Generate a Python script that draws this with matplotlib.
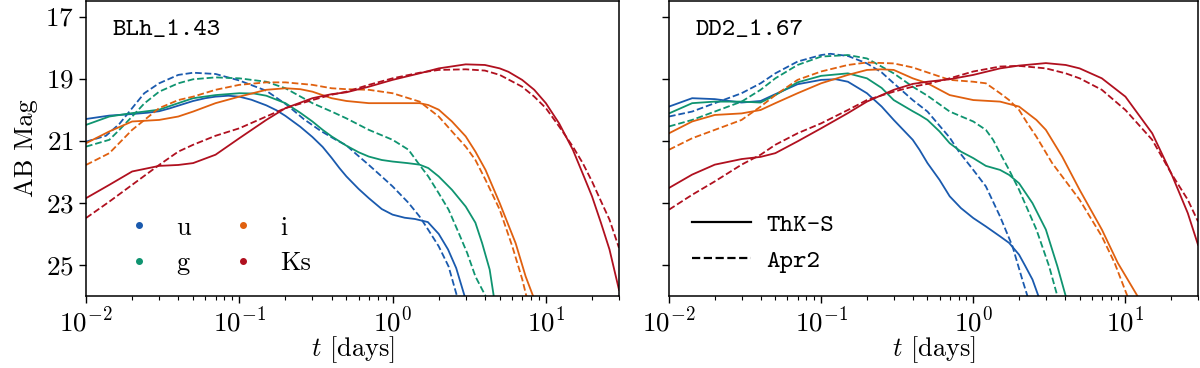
import matplotlib
matplotlib.use("Agg")
import matplotlib.pyplot as plt
from matplotlib.lines import Line2D

plt.rcParams["font.family"] = "serif"
plt.rcParams["font.serif"] = ["cmr10"]
plt.rcParams["mathtext.fontset"] = "cm"
plt.rcParams["axes.formatter.use_mathtext"] = True
plt.rcParams["axes.unicode_minus"] = False

# ---------------- data ----------------
bands = ["u", "g", "i", "Ks"]
band_colors = ["#1a5aae", "#0f9470", "#e0600f", "#b0101f"]
models = ["ThK-S", "Apr2"]
panel_labels = ["BLh_1.43", "DD2_1.67"]
yticks = [17, 19, 21, 23, 25]

# --- BLh_1.43 ---
blh_u_thk_t = [0.01, 0.0142, 0.02, 0.025, 0.03, 0.035, 0.04, 0.05, 0.06, 0.07, 0.085, 0.1, 0.12, 0.15, 0.175, 0.2, 0.25, 0.3, 0.35, 0.4, 0.45, 0.5, 0.6, 0.7, 0.85, 1.0, 1.2, 1.4, 1.7, 2.0, 2.3, 2.6, 2.95, 3.1]
blh_u_thk_m = [20.30, 20.19, 20.14, 20.10, 20.05, 19.96, 19.87, 19.72, 19.63, 19.58, 19.55, 19.58, 19.68, 19.86, 20.02, 20.2, 20.55, 20.88, 21.2, 21.55, 21.88, 22.15, 22.55, 22.85, 23.2, 23.38, 23.48, 23.52, 23.62, 24.0, 24.5, 25.1, 26.0, 26.4]
blh_u_apr_t = [0.01, 0.0135, 0.0165, 0.02, 0.024, 0.03, 0.04, 0.05, 0.07, 0.1, 0.15, 0.205, 0.263, 0.339, 0.42, 0.5, 0.57, 0.7, 0.84, 1.0, 1.27, 1.5, 1.71, 2.0, 2.32, 2.63, 2.72]
blh_u_apr_m = [21.03, 20.84, 20.46, 19.95, 19.47, 19.15, 18.88, 18.81, 18.85, 19.06, 19.39, 19.85, 20.3, 20.68, 20.95, 21.15, 21.4, 21.78, 22.13, 22.47, 23.0, 23.44, 23.87, 24.4, 25.05, 26.0, 26.3]
blh_g_thk_t = [0.01, 0.0142, 0.02, 0.03, 0.04, 0.05, 0.07, 0.1, 0.125, 0.15, 0.2, 0.25, 0.3, 0.35, 0.4, 0.5, 0.6, 0.7, 0.85, 1.0, 1.25, 1.5, 1.71, 2.0, 2.44, 3.0, 3.47, 3.84, 4.3, 4.57, 4.75]
blh_g_thk_m = [20.49, 20.22, 20.11, 20.0, 19.79, 19.63, 19.53, 19.47, 19.48, 19.55, 19.79, 20.1, 20.38, 20.65, 20.86, 21.16, 21.37, 21.51, 21.62, 21.67, 21.72, 21.77, 21.88, 22.15, 22.58, 23.12, 23.64, 24.3, 25.15, 26.0, 26.4]
blh_g_apr_t = [0.01, 0.0142, 0.0165, 0.02, 0.024, 0.03, 0.04, 0.05, 0.07, 0.1, 0.15, 0.2, 0.3, 0.4, 0.5, 0.7, 1.0, 1.27, 1.5, 1.71, 2.0, 2.32, 2.7, 3.07, 3.47, 4.04, 4.2]
blh_g_apr_m = [21.19, 20.97, 20.65, 20.22, 19.8, 19.42, 19.15, 19.02, 18.96, 18.99, 19.1, 19.31, 19.79, 20.06, 20.28, 20.65, 20.97, 21.29, 21.78, 22.15, 22.69, 23.22, 23.97, 24.62, 25.37, 26.0, 26.3]
blh_i_thk_t = [0.01, 0.0142, 0.02, 0.03, 0.04, 0.05, 0.07, 0.1, 0.15, 0.2, 0.25, 0.3, 0.4, 0.5, 0.7, 1.0, 1.5, 1.71, 2.0, 2.44, 3.0, 3.47, 4.04, 5.0, 6.35, 7.38, 8.25, 8.5]
blh_i_thk_m = [21.08, 20.7, 20.38, 20.33, 20.22, 20.06, 19.79, 19.58, 19.36, 19.31, 19.34, 19.42, 19.63, 19.72, 19.79, 19.79, 19.79, 19.85, 20.0, 20.38, 20.86, 21.35, 21.94, 23.01, 24.3, 25.37, 26.0, 26.3]
blh_i_apr_t = [0.01, 0.0142, 0.02, 0.03, 0.04, 0.05, 0.07, 0.1, 0.15, 0.2, 0.3, 0.4, 0.5, 0.7, 1.0, 1.5, 2.0, 2.44, 3.0, 3.47, 4.04, 5.0, 6.04, 7.02, 7.46, 7.7]
blh_i_apr_m = [21.78, 21.4, 20.65, 19.95, 19.69, 19.58, 19.36, 19.2, 19.12, 19.12, 19.2, 19.31, 19.34, 19.36, 19.47, 19.74, 20.22, 20.7, 21.19, 21.62, 22.26, 23.22, 24.4, 25.47, 26.0, 26.3]
blh_k_thk_t = [0.01, 0.0142, 0.02, 0.03, 0.04, 0.05, 0.07, 0.1, 0.15, 0.2, 0.3, 0.4, 0.5, 0.7, 1.0, 1.5, 2.0, 3.0, 4.0, 5.0, 5.7, 7.0, 8.4, 10, 12.2, 15, 17.4, 20, 22.9, 26, 30]
blh_k_thk_m = [22.85, 22.42, 21.99, 21.81, 21.78, 21.72, 21.45, 20.92, 20.33, 19.95, 19.63, 19.5, 19.44, 19.26, 19.04, 18.83, 18.67, 18.54, 18.56, 18.67, 18.78, 19.04, 19.36, 19.79, 20.44, 21.29, 22.06, 22.79, 23.65, 24.5, 25.8]
blh_k_apr_t = [0.01, 0.0142, 0.02, 0.03, 0.04, 0.05, 0.07, 0.1, 0.15, 0.2, 0.3, 0.4, 0.5, 0.7, 1.0, 1.5, 2.0, 3.0, 4.0, 5.0, 7.0, 8.4, 10, 12.2, 15, 17.4, 20, 22.9, 26, 30]
blh_k_apr_m = [23.49, 22.96, 22.42, 21.78, 21.35, 21.13, 20.84, 20.6, 20.22, 19.95, 19.69, 19.52, 19.42, 19.2, 18.99, 18.81, 18.72, 18.7, 18.74, 18.88, 19.26, 19.58, 19.95, 20.54, 21.19, 21.72, 22.31, 22.95, 23.54, 24.45]

# --- DD2_1.67 ---
dd2_u_thk_t = [0.01, 0.0142, 0.02, 0.03, 0.04, 0.05, 0.07, 0.1, 0.125, 0.15, 0.2, 0.25, 0.3, 0.4, 0.443, 0.5, 0.6, 0.7, 0.83, 1.0, 1.21, 1.5, 1.72, 2.0, 2.2, 2.45, 2.68, 2.8]
dd2_u_thk_m = [19.9, 19.63, 19.66, 19.77, 19.72, 19.5, 19.18, 19.04, 19.02, 19.1, 19.47, 19.9, 20.33, 20.97, 21.29, 21.72, 22.26, 22.79, 23.17, 23.49, 23.76, 24.08, 24.29, 24.67, 25.04, 25.47, 26.0, 26.3]
dd2_u_apr_t = [0.01, 0.0142, 0.02, 0.03, 0.04, 0.05, 0.07, 0.1, 0.115, 0.15, 0.2, 0.25, 0.3, 0.4, 0.5, 0.7, 0.804, 1.0, 1.21, 1.5, 1.81, 2.1, 2.27, 2.35]
dd2_u_apr_m = [20.22, 20.06, 19.79, 19.47, 19.15, 18.83, 18.45, 18.24, 18.2, 18.27, 18.51, 18.8, 19.15, 19.69, 20.06, 20.9, 21.35, 21.94, 22.47, 23.44, 24.4, 25.47, 26.0, 26.3]
dd2_g_thk_t = [0.01, 0.0142, 0.02, 0.03, 0.04, 0.05, 0.07, 0.1, 0.15, 0.2, 0.25, 0.3, 0.4, 0.443, 0.5, 0.6, 0.7, 0.83, 1.0, 1.21, 1.5, 1.72, 2.0, 2.45, 3.0, 3.57, 4.05, 4.2]
dd2_g_thk_m = [20.12, 19.79, 19.74, 19.74, 19.77, 19.53, 19.12, 18.91, 18.83, 18.99, 19.3, 19.69, 20.05, 20.17, 20.33, 20.7, 21.08, 21.35, 21.56, 21.81, 21.94, 22.1, 22.37, 23.01, 23.86, 25.04, 26.0, 26.3]
dd2_g_apr_t = [0.01, 0.0142, 0.02, 0.03, 0.04, 0.05, 0.07, 0.1, 0.15, 0.2, 0.3, 0.4, 0.5, 0.7, 1.0, 1.21, 1.35, 1.5, 1.72, 2.0, 2.6, 3.15, 3.57, 3.7]
dd2_g_apr_m = [20.54, 20.33, 20.06, 19.74, 19.36, 18.99, 18.56, 18.29, 18.24, 18.35, 18.83, 19.26, 19.55, 20.06, 20.38, 20.65, 20.97, 21.4, 21.94, 22.58, 23.86, 25.04, 26.0, 26.3]
dd2_i_thk_t = [0.01, 0.0142, 0.02, 0.03, 0.04, 0.05, 0.07, 0.1, 0.15, 0.2, 0.25, 0.3, 0.4, 0.5, 0.7, 1.0, 1.5, 2.0, 2.6, 3.0, 3.84, 5.0, 7.0, 8.9, 12.0, 12.5]
dd2_i_thk_m = [20.76, 20.38, 20.17, 20.12, 20.01, 19.79, 19.47, 19.15, 18.88, 18.72, 18.7, 18.72, 18.99, 19.15, 19.53, 19.69, 19.74, 19.9, 20.33, 20.65, 21.51, 22.58, 23.86, 24.93, 26.0, 26.2]
dd2_i_apr_t = [0.01, 0.0142, 0.02, 0.03, 0.04, 0.05, 0.07, 0.1, 0.15, 0.2, 0.3, 0.4, 0.5, 0.7, 1.0, 1.21, 1.5, 1.72, 2.0, 2.27, 2.6, 3.3, 5.0, 7.0, 8.5, 10.3, 10.8]
dd2_i_apr_m = [21.29, 20.92, 20.65, 20.33, 19.9, 19.53, 19.04, 18.77, 18.56, 18.48, 18.51, 18.64, 18.8, 19.04, 19.1, 19.15, 19.47, 19.69, 20.01, 20.44, 20.87, 21.72, 22.9, 24.08, 24.94, 26.0, 26.3]
dd2_k_thk_t = [0.01, 0.0142, 0.02, 0.03, 0.04, 0.05, 0.07, 0.1, 0.15, 0.2, 0.3, 0.4, 0.5, 0.7, 1.0, 1.5, 2.0, 3.0, 4.05, 5.0, 7.0, 10, 15, 20, 25.7, 30]
dd2_k_thk_m = [22.52, 22.09, 21.77, 21.59, 21.52, 21.4, 21.02, 20.6, 20.11, 19.74, 19.36, 19.17, 19.1, 19.02, 18.88, 18.67, 18.58, 18.5, 18.56, 18.67, 18.99, 19.58, 20.76, 22.05, 23.33, 24.35]
dd2_k_apr_t = dd2_k_thk_t
dd2_k_apr_m = [23.22, 22.74, 22.31, 21.77, 21.45, 21.13, 20.76, 20.44, 20.01, 19.69, 19.42, 19.26, 19.17, 18.99, 18.77, 18.61, 18.59, 18.67, 18.83, 18.99, 19.36, 20.01, 20.97, 22.05, 22.9, 23.6]

panels = [
    [(blh_u_thk_t, blh_u_thk_m, blh_u_apr_t, blh_u_apr_m),
     (blh_g_thk_t, blh_g_thk_m, blh_g_apr_t, blh_g_apr_m),
     (blh_i_thk_t, blh_i_thk_m, blh_i_apr_t, blh_i_apr_m),
     (blh_k_thk_t, blh_k_thk_m, blh_k_apr_t, blh_k_apr_m)],
    [(dd2_u_thk_t, dd2_u_thk_m, dd2_u_apr_t, dd2_u_apr_m),
     (dd2_g_thk_t, dd2_g_thk_m, dd2_g_apr_t, dd2_g_apr_m),
     (dd2_i_thk_t, dd2_i_thk_m, dd2_i_apr_t, dd2_i_apr_m),
     (dd2_k_thk_t, dd2_k_thk_m, dd2_k_apr_t, dd2_k_apr_m)],
]

# ---------------- figure ----------------
fig = plt.figure(figsize=(12, 3.68), dpi=100)
ax1 = fig.add_axes([86 / 1200, 1 - 296 / 368, 533 / 1200, 295 / 368])
ax2 = fig.add_axes([669 / 1200, 1 - 296 / 368, 529 / 1200, 295 / 368], sharey=ax1)
axes = [ax1, ax2]

LW = 1.3
FS_TICK = 19.5
FS_LAB = 19
FS_TT = 18.5

for ax, curves, plabel in zip(axes, panels, panel_labels):
    for (ts, ms, ta, ma), col in zip(curves, band_colors):
        ax.plot(ts, ms, color=col, lw=LW, ls="-")
        ax.plot(ta, ma, color=col, lw=LW, ls="--")
    ax.set_xscale("log")
    ax.set_xlim(0.01, 30)
    ax.set_ylim(26, 16.5)
    ax.set_yticks(yticks)
    ax.tick_params(axis="both", which="major", labelsize=FS_TICK, width=1.0, length=5, pad=4)
    ax.tick_params(axis="x", which="major", pad=3)
    ax.tick_params(axis="both", which="minor", width=0.8, length=3)
    for s in ax.spines.values():
        s.set_linewidth(1.1)
    ax.set_xlabel(r"$t$ [days]", fontsize=FS_LAB, labelpad=-2)
    ax.text(0.05, 0.885, plabel, transform=ax.transAxes, fontsize=FS_TT,
            fontname="cmtt10", ha="left", va="baseline")

ax1.set_ylabel("AB Mag", fontsize=FS_LAB, labelpad=5)
plt.setp(ax2.get_yticklabels(), visible=False)

band_handles = [Line2D([], [], ls="none", marker="o", ms=4, color=c) for c in band_colors]
leg1 = ax1.legend(band_handles, bands, ncol=2, frameon=False, loc="lower left",
                  bbox_to_anchor=(0.03, -0.01), fontsize=FS_LAB, handletextpad=0.9,
                  columnspacing=1.5, labelspacing=0.45, handlelength=1.0)

style_handles = [Line2D([], [], color="black", lw=1.6, ls="-"),
                 Line2D([], [], color="black", lw=1.6, ls="--")]
leg2 = ax2.legend(style_handles, models, frameon=False, loc="lower left",
                  bbox_to_anchor=(0.0, 0.0), handlelength=2.3, handletextpad=0.6,
                  labelspacing=0.45, prop={"family": "cmtt10", "size": FS_TT})

fig.savefig("out.png", dpi=100)
